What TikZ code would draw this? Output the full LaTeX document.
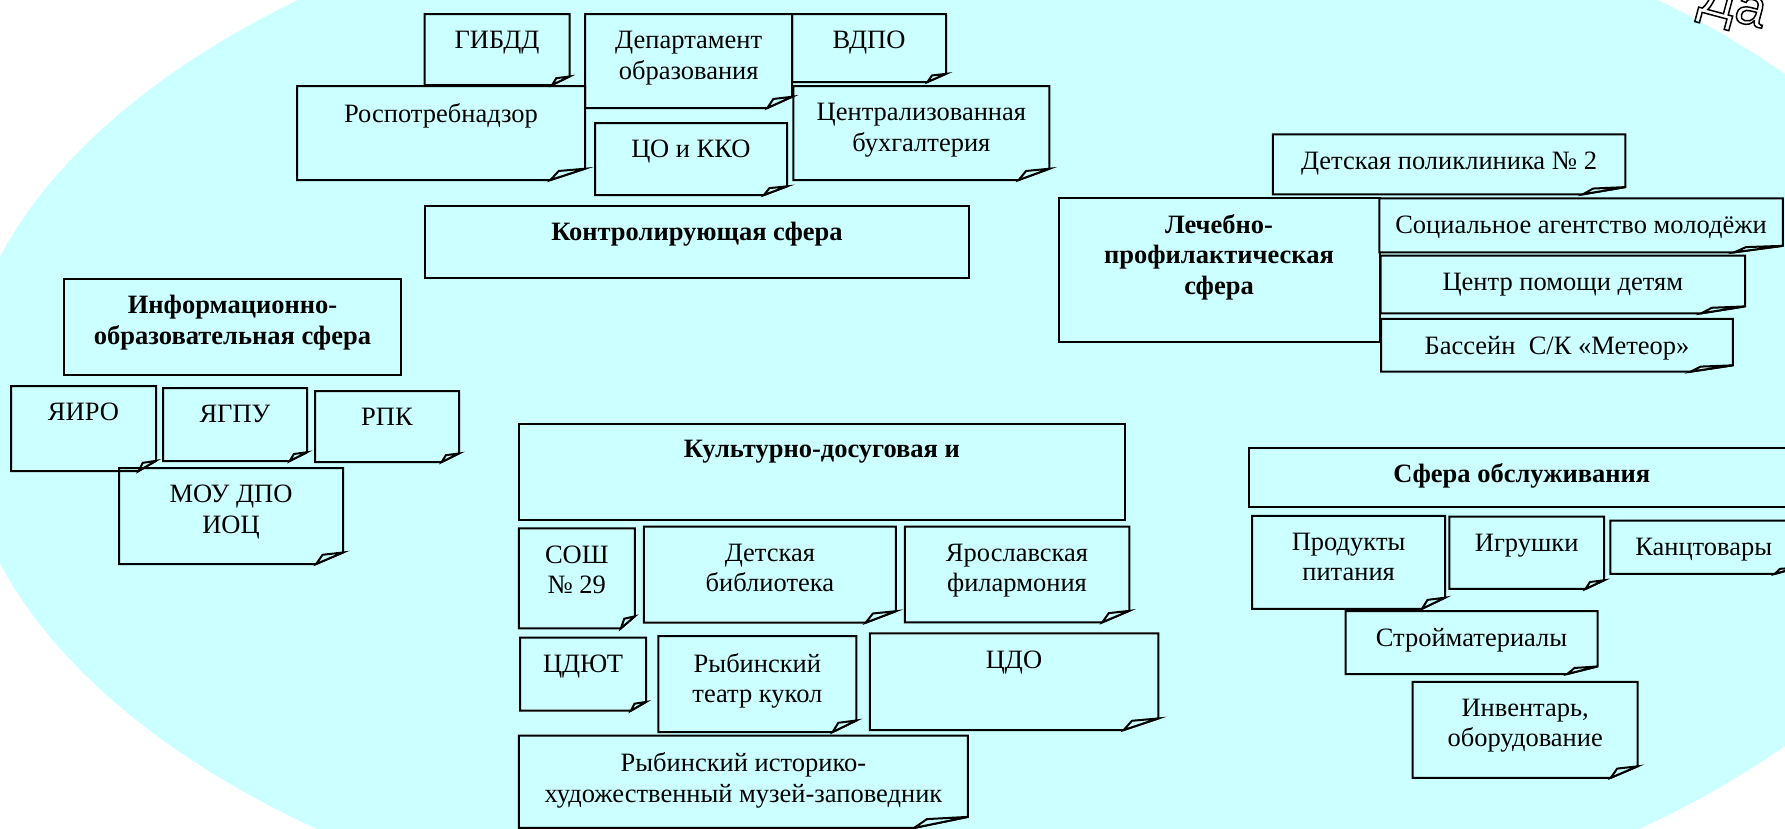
\documentclass[tikz,border=0pt]{standalone}
\usepackage{fontspec}
\setmainfont{Liberation Serif}
\newfontfamily\wordartfont{Liberation Sans}
\usepackage{tikz}
\usetikzlibrary{calc, positioning}
\definecolor{skyfill}{RGB}{204,255,255}
\newcommand{\notefont}{\fontsize{26.5}{30.5}\selectfont}
\tikzset{
    headbox/.style = {draw, rectangle, fill=skyfill, line width=2pt, inner sep=0pt},
    notebox/.style = {rectangle, fill=skyfill, inner sep=0pt, outer sep=0pt},
    foldline/.style = {line width=2pt, line join=miter},
    notetext/.style = {anchor=north, yshift=-17pt, inner sep=0pt, font=\notefont},
    headtext/.style = {notetext, font=\notefont\bfseries},
    wordart/.style = {inner sep=0pt, font=\wordartfont\fontsize{54}{54}\selectfont},
    every text node part/.style={align=center}
}

\begin{document}
\begin{tikzpicture}[x=1pt, y=-1pt]
    \useasboundingbox (0,0) rectangle (1785,828);
    \clip (0,0) rectangle (1785,828);
    \fill [skyfill] (978,410) ellipse [x radius=1018, y radius=551];

    \node [notebox, name=gibdd, minimum width=145, minimum height=71,
      label={[notetext, name=gibddtext]north:ГИБДД}] at (497,49.5) {};
    \node [notebox, name=rospotreb, minimum width=288, minimum height=94,
      label={[notetext, name=rospotrebtext]north:Роспотребнадзор}] at (441,133) {};
    \node [notebox, name=depart, minimum width=207, minimum height=94,
      label={[notetext, name=departtext]north:{Департамент\\образования}}] at (688.7,61) {};
    \node [notebox, name=vdpo, minimum width=154, minimum height=68,
      label={[notetext, name=vdpotext]north:ВДПО}] at (869,48) {};
    \node [notebox, name=account, minimum width=256, minimum height=94,
      label={[notetext, name=accounttext]north:{Централизованная\\бухгалтерия}}] at (921.4,133) {};
    \node [notebox, name=quality, minimum width=192, minimum height=72,
      label={[notetext, name=qualitytext]north:ЦО и ККО}] at (691,159) {};
    \node [headbox, name=control, minimum width=544, minimum height=72,
      label={[headtext, name=controltext]north:Контролирующая сфера}] at (697,241.5) {};

    \node [headbox, name=inform, minimum width=337, minimum height=96,
      label={[headtext, name=informtext]north:{Информационно-\\образовательная сфера}}] at (232.5,327) {};
    \node [notebox, name=yairo, minimum width=145, minimum height=85,
      label={[notetext, name=yairotext]north:ЯИРО}] at (83.5,428.5) {};
    \node [notebox, name=yagpu, minimum width=144, minimum height=73,
      label={[notetext, name=yagputext]north:ЯГПУ}] at (235,424.5) {};
    \node [notebox, name=rpk, minimum width=144, minimum height=71,
      label={[notetext, name=rpktext]north:РПК}] at (387,426.5) {};
    \node [notebox, name=mou, minimum width=224, minimum height=96,
      label={[notetext, name=moutext]north:{МОУ ДПО\\ИОЦ}}] at (231,516) {};

    \node [notebox, name=clinic, minimum width=352.5, minimum height=60,
      label={[notetext, name=clinictext]north:Детская поликлиника №~2}] at (1449,164.3) {};
    \node [headbox, name=medical, minimum width=321, minimum height=144,
      label={[headtext, name=medicaltext]north:{Лечебно-\\профилактическая\\сфера}}] at (1219,270.3) {};
    \node [notebox, name=youth, minimum width=403.5, minimum height=54,
      label={[notetext, name=youthtext]north:Социальное агентство молодёжи}] at (1581,225.3) {};
    \node [notebox, name=help, minimum width=364.5, minimum height=57.6,
      label={[notetext, name=helptext]north:Центр помощи детям}] at (1562.8,284.5) {};
    \node [notebox, name=pool, minimum width=351.6, minimum height=52.7,
      label={[notetext, name=pooltext]north:Бассейн~ С/К «Метеор»}] at (1557,345.3) {};

    \node [headbox, name=culture, minimum width=606, minimum height=96,
      label={[headtext, name=culturetext]north:Культурно-досуговая и}] at (821.9,472) {};
    \node [notebox, name=school, minimum width=116, minimum height=100,
      label={[notetext, name=schooltext]north:{СОШ\\№~29}}] at (576.8,578.3) {};
    \node [notebox, name=library, minimum width=252, minimum height=96,
      label={[notetext, name=librarytext]north:{Детская\\библиотека}}] at (769.9,574.7) {};
    \node [notebox, name=philharm, minimum width=224.5, minimum height=95.6,
      label={[notetext, name=philharmtext]north:{Ярославская\\филармония}}] at (1017,574.5) {};
    \node [notebox, name=cdyut, minimum width=126, minimum height=73,
      label={[notetext, name=cdyuttext]north:ЦДЮТ}] at (583,674.2) {};
    \node [notebox, name=puppet, minimum width=198, minimum height=96,
      label={[notetext, name=puppettext]north:{Рыбинский\\театр кукол}}] at (757.4,684) {};
    \node [notebox, name=cdo, minimum width=288.5, minimum height=96.7,
      label={[notetext, name=cdotext]north:ЦДО}] at (1014,681.7) {};
    \node [notebox, name=museum, minimum width=449, minimum height=92.3,
      label={[notetext, name=museumtext]north:{Рыбинский историко-\\художественный музей-заповедник}}] at (743.4,781.8) {};

    \node [headbox, name=service, minimum width=546.5, minimum height=59.6,
      label={[headtext, name=servicetext]north:Сфера обслуживания}] at (1521.8,477.5) {};
    \node [notebox, name=food, minimum width=193, minimum height=93,
      label={[notetext, name=foodtext]north:{Продукты\\питания}}] at (1348.6,562.3) {};
    \node [notebox, name=toys, minimum width=154.7, minimum height=72.3,
      label={[notetext, name=toystext]north:Игрушки}] at (1526.7,552.8) {};
    \node [notebox, name=office, minimum width=186.6, minimum height=53.3,
      label={[notetext, name=officetext]north:Канцтовары}] at (1703.7,547.3) {};
    \node [notebox, name=build, minimum width=252, minimum height=63,
      label={[notetext, name=buildtext]north:Стройматериалы}] at (1471.5,642.5) {};
    \node [notebox, name=equip, minimum width=225, minimum height=96,
      label={[notetext, name=equiptext]north:{Инвентарь,\\оборудование}}] at (1525.2,729.8) {};

    \foreach \nb in {gibdd, rospotreb, depart, vdpo, account, quality, yairo, yagpu, rpk, mou,
        clinic, youth, help, pool, school, library, philharm, cdyut, puppet, cdo, museum,
        food, toys, office, build, equip} {
      \draw [foldline] let \p1=(\nb.north west), \p2=(\nb.south east),
        \n1={0.12*(\x2-\x1)}, \n2={0.12*(\y1-\y2)} in
        (\p1) -- (\x2,\y1) -- (\x2,{\y2+\n2}) -- ({\x2-\n1},\y2) -- (\x1,\y2) -- cycle;
      \draw [foldline, fill=skyfill] let \p2=(\nb.south east), \p1=(\nb.north west),
        \n1={0.12*(\x2-\x1)}, \n2={0.12*(\y1-\y2)} in
        ({\x2-\n1},\y2) -- ({\x2-0.76*\n1},{\y2+0.8*\n2}) -- (\x2,{\y2+\n2}) -- cycle;
    }

    \node [wordart, name=yes, rotate=-15, anchor=base west] at (1697,11)
      {\special{pdf:literal direct 1 Tr 1.5 w}Да};
\end{tikzpicture}
\end{document}
